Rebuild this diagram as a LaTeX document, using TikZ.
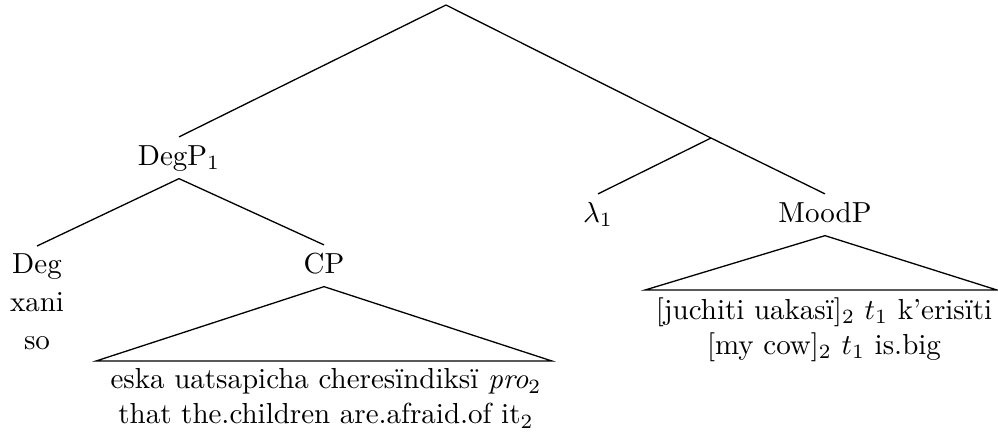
\documentclass[tikz,border=0pt]{standalone}
\usepackage{fontspec}
\begin{document}
\begin{tikzpicture}[x=0.345pt,y=-0.345pt,
  lab/.style={inner sep=2.5pt, text height=7pt, text depth=2pt},
  leaf/.style={inner sep=2.5pt, align=center, anchor=north},
  br/.style={line width=0.45pt}]
\useasboundingbox (0,0) rectangle (998,433);
% nodes
\coordinate (root) at (446,5);
\node[lab,anchor=base] (degp) at (179,165) {DegP$_1$};
\coordinate (mid) at (711,138);
\node[leaf] (deg) at (37,246) {Deg\\[1pt]xani\\[1pt]so};
\node[lab,anchor=base] (cp) at (324,273) {CP};
\node[lab,anchor=base] (lam) at (598,222) {$\lambda_1$};
\node[lab,anchor=base] (mood) at (825,222) {MoodP};
\coordinate (cpL) at (96,361);
\coordinate (cpR) at (552,361);
\node[leaf] (cpt) at (326,361) {eska uatsapicha cheresïndiksï \textit{pro}$_2$\\that the.children are.afraid.of it$_2$};
\coordinate (mL) at (645,290);
\coordinate (mR) at (997,290);
\node[leaf] (mt) at (824,290) {[juchiti uakasï]$_2$ $t_1$ k'erisïti\\{}[my cow]$_2$ $t_1$ is.big};
% branches
\draw[br] (root) -- (degp.north);
\draw[br] (root) -- (mid);
\draw[br] (mid) -- (lam.north);
\draw[br] (mid) -- (mood.north);
\draw[br] (degp.south) -- (deg.north);
\draw[br] (degp.south) -- (cp.north);
\draw[br] (cp.south) -- (cpL) -- (cpR) -- cycle;
\draw[br] (mood.south) -- (mL) -- (mR) -- cycle;
\end{tikzpicture}
\end{document}
